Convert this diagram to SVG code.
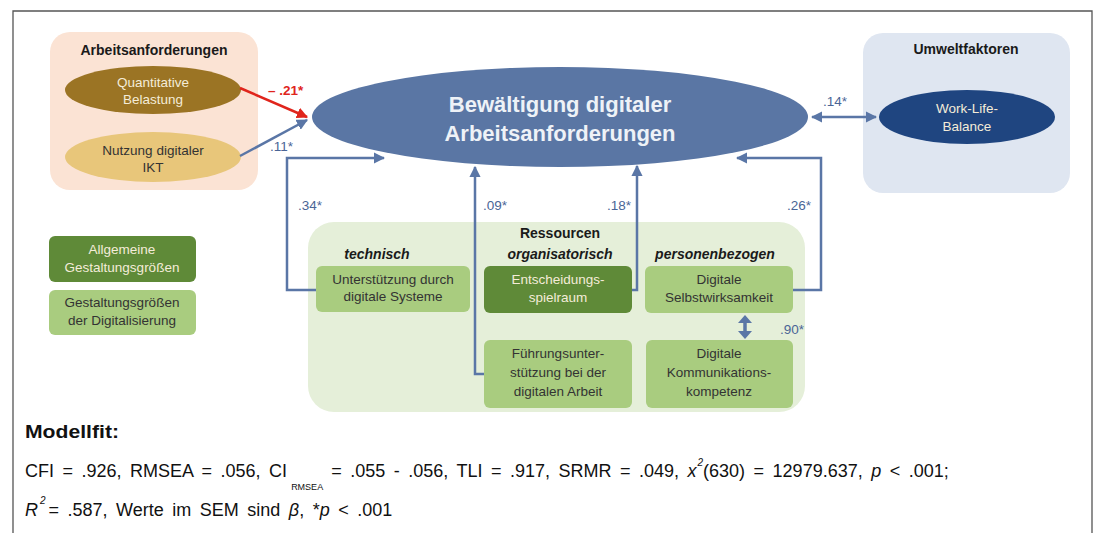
<svg xmlns="http://www.w3.org/2000/svg" width="1095" height="533" viewBox="0 0 1095 533">
<defs>
<marker id="ab" viewBox="0 0 10 10" refX="9" refY="5" markerWidth="4.5" markerHeight="4.5" orient="auto-start-reverse" markerUnits="strokeWidth"><path d="M0,0 L10,5 L0,10 z" fill="#5a76a6"/></marker>
<marker id="ar" viewBox="0 0 10 10" refX="9" refY="5" markerWidth="4.5" markerHeight="4.5" orient="auto" markerUnits="strokeWidth"><path d="M0,0 L10,5 L0,10 z" fill="#e0251c"/></marker>
</defs>
<style>
text{font-family:"Liberation Sans",Arial,sans-serif}
.t{font-size:13.5px;text-anchor:middle;fill:#333}
.tl{font-size:13.5px;text-anchor:middle;fill:#f4ecd8}
.h{font-size:14px;font-weight:bold;text-anchor:middle;fill:#1a1a1a}
.hi{font-size:14px;font-weight:bold;font-style:italic;text-anchor:middle;fill:#1a1a1a}
.lb{font-size:13.5px;fill:#4a6596}
.c{fill:none;stroke:#5a76a6;stroke-width:2.5}
.lg{fill:#a9cc7f}
.dg{fill:#5f8a38}
.m{font-size:18px;fill:#111;word-spacing:3.5px}
.i{font-style:italic}
.sm{font-size:9px;word-spacing:0}
.sup{font-size:10px;font-style:italic}
</style>
<rect width="1095" height="533" fill="#fff"/>
<path d="M13,533 V11 H1092 V533" fill="none" stroke="#555" stroke-width="1.3"/>

<g id="arbeitsanforderungen">
<rect x="50" y="32" width="208" height="158" rx="20" fill="#fbe3d4"/>
<text class="h" x="154" y="55">Arbeitsanforderungen</text>
</g>
<g id="quantitative">
<ellipse cx="153" cy="90" rx="88" ry="24" fill="#9b7424"/>
<text class="tl" x="153" y="87">Quantitative</text>
<text class="tl" x="153" y="104">Belastung</text>
</g>
<g id="nutzung">
<ellipse cx="153" cy="157" rx="88" ry="25" fill="#e8c67a"/>
<text class="t" x="153" y="155" fill="#222">Nutzung digitaler</text>
<text class="t" x="153" y="172" fill="#222">IKT</text>
</g>

<g id="umweltfaktoren">
<rect x="863" y="33" width="207" height="160" rx="20" fill="#dfe6f1"/>
<text class="h" x="966" y="54">Umweltfaktoren</text>
</g>
<g id="worklife">
<ellipse cx="967" cy="117" rx="88" ry="27" fill="#1f4580"/>
<text class="tl" x="967" y="113" fill="#dfe6f1">Work-Life-</text>
<text class="tl" x="967" y="131" fill="#dfe6f1">Balance</text>
</g>

<g id="bewaeltigung">
<ellipse cx="560" cy="117" rx="248" ry="50" fill="#5a76a4"/>
<text x="560" y="112" font-size="22" font-weight="bold" text-anchor="middle" fill="#eef2f7">Bewältigung digitaler</text>
<text x="560" y="141" font-size="22" font-weight="bold" text-anchor="middle" fill="#eef2f7">Arbeitsanforderungen</text>
</g>

<g id="ressourcen">
<rect x="308" y="222" width="497" height="190" rx="26" fill="#e5efd9"/>
<text class="h" x="560" y="238">Ressourcen</text>
<text class="hi" x="377" y="259">technisch</text>
<text class="hi" x="560" y="259">organisatorisch</text>
<text class="hi" x="715" y="259">personenbezogen</text>
</g>
<g id="unterstuetzung">
<rect class="lg" x="316" y="266" width="154" height="46" rx="6"/>
<text class="t" x="393" y="284">Unterstützung durch</text>
<text class="t" x="393" y="301">digitale Systeme</text>
</g>
<g id="entscheidung">
<rect class="dg" x="484" y="266" width="148" height="47" rx="6"/>
<text class="tl" x="558" y="284" fill="#e6efdc">Entscheidungs-</text>
<text class="tl" x="558" y="302" fill="#e6efdc">spielraum</text>
</g>
<g id="selbstwirksamkeit">
<rect class="lg" x="645" y="266" width="148" height="47" rx="6"/>
<text class="t" x="719" y="284">Digitale</text>
<text class="t" x="719" y="302">Selbstwirksamkeit</text>
</g>
<g id="fuehrung">
<rect class="lg" x="484" y="340" width="148" height="68" rx="6"/>
<text class="t" x="558" y="358">Führungsunter-</text>
<text class="t" x="558" y="377">stützung bei der</text>
<text class="t" x="558" y="396">digitalen Arbeit</text>
</g>
<g id="kommunikation">
<rect class="lg" x="646" y="340" width="147" height="68" rx="6"/>
<text class="t" x="719" y="358">Digitale</text>
<text class="t" x="719" y="377">Kommunikations-</text>
<text class="t" x="719" y="396">kompetenz</text>
</g>

<g id="legende-allgemein">
<rect class="dg" x="49" y="236" width="147" height="46" rx="6"/>
<text class="tl" x="122" y="254" fill="#e6efdc">Allgemeine</text>
<text class="tl" x="122" y="272" fill="#e6efdc">Gestaltungsgrößen</text>
</g>
<g id="legende-digital">
<rect class="lg" x="49" y="290" width="147" height="45" rx="6"/>
<text class="t" x="122" y="307">Gestaltungsgrößen</text>
<text class="t" x="122" y="325">der Digitalisierung</text>
</g>

<g id="connectors">
<line x1="240" y1="88" x2="307" y2="117" stroke="#e0251c" stroke-width="2.5" marker-end="url(#ar)"/>
<line x1="240" y1="156" x2="307" y2="120" class="c" marker-end="url(#ab)"/>
<line x1="812" y1="117" x2="876" y2="117" class="c" marker-start="url(#ab)" marker-end="url(#ab)"/>
<polyline points="316,290 287,290 287,158 384,158" class="c" marker-end="url(#ab)"/>
<polyline points="484,374 475,374 475,167" class="c" marker-end="url(#ab)"/>
<polyline points="632,290 637,290 637,166" class="c" marker-end="url(#ab)"/>
<polyline points="793,290 821,290 821,158 737,158" class="c" marker-end="url(#ab)"/>
<line x1="745" y1="322" x2="745" y2="332" stroke="#5a76a6" stroke-width="3.5"/>
<path d="M738,323 L745,315 L752,323 z M738,331 L745,339 L752,331 z" fill="#5a76a6"/>
<text x="268" y="95" font-size="13.5" font-weight="bold" fill="#e0251c">– .21*</text>
<text class="lb" x="270" y="151">.11*</text>
<text class="lb" x="823" y="106">.14*</text>
<text class="lb" x="298" y="210">.34*</text>
<text class="lb" x="483" y="210">.09*</text>
<text class="lb" x="607" y="210">.18*</text>
<text class="lb" x="787" y="210">.26*</text>
<text class="lb" x="780" y="334">.90*</text>
</g>

<g id="modellfit">
<text x="25" y="438" font-size="18" font-weight="bold" fill="#111" textLength="94" lengthAdjust="spacingAndGlyphs">Modellfit:</text>
<text class="m" x="25" y="477">CFI = .926, RMSEA = .056, CI<tspan class="sm" dx="4" dy="13">RMSEA</tspan><tspan dx="8" dy="-13">= .055 - .056, TLI = .917, SRMR = .049, </tspan><tspan class="i">x</tspan><tspan class="sup" dx="1" dy="-11">2</tspan><tspan dy="11">(630) = 12979.637, </tspan><tspan class="i">p</tspan> &lt; .001;</text>
<text class="m" x="25" y="516"><tspan class="i">R</tspan><tspan class="sup" dx="2" dy="-12">2</tspan><tspan dx="3" dy="12">= .587, Werte im SEM sind </tspan><tspan class="i">β</tspan>, *<tspan class="i">p</tspan> &lt; .001</text>
</g>
</svg>
